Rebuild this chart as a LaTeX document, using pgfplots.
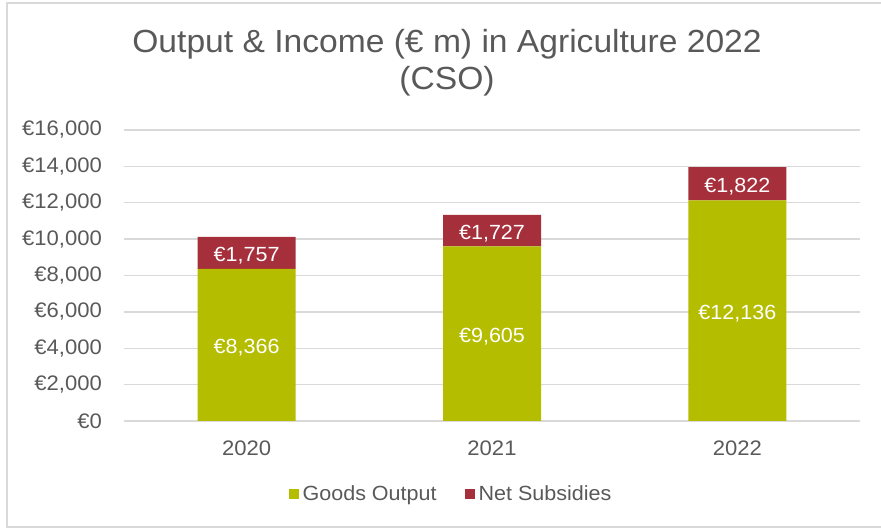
\documentclass[border=0pt]{standalone}
\usepackage{fontspec}
\setmainfont{Liberation Sans}[FakeStretch=1.05]
\usepackage{pgfplots}
\pgfplotsset{compat=1.18}
\definecolor{goods}{HTML}{B5BD00}
\definecolor{subs}{HTML}{A52F3B}
\definecolor{txt}{HTML}{595959}
\definecolor{gridc}{HTML}{D9D9D9}

\begin{document}
\begin{tikzpicture}
\useasboundingbox (0pt,0pt) rectangle (881pt,529pt);
% chart frame (right side is cut off in the reference)
\draw[gridc, line width=1.5pt] (881pt,526pt) -- (7pt,526pt) -- (7pt,2pt) -- (881pt,2pt);
\begin{axis}[
    at={(124pt,108pt)}, anchor=south west,
    scale only axis, width=736pt, height=291pt,
    ybar stacked, bar width=98pt,
    xmin=-0.5, xmax=2.5, ymin=0, ymax=16000,
    xtick={0,1,2}, xticklabels={2020,2021,2022},
    ytick={0,2000,...,16000}, scaled y ticks=false,
    ymajorgrids, grid style={gridc, line width=1.3pt},
    axis line style={draw=none}, tick style={draw=none},
    /pgf/number format/1000 sep={,},
    /pgf/number format/assume math mode=true,
    yticklabel={€\pgfmathprintnumber{\tick}},
    yticklabel style={font=\fontsize{21}{21}\selectfont, text=txt,
        anchor=east, inner sep=0pt, xshift=-22pt},
    xticklabel style={font=\fontsize{21}{21}\selectfont, text=txt,
        anchor=north, inner sep=0pt, yshift=-20pt},
    title={Output \& Income (€ m) in Agriculture 2022\\(CSO)},
    title style={at={(0.4389,1.2095)}, anchor=center, align=center,
        font=\fontsize{32}{37}\selectfont, text=txt},
    legend columns=2,
    legend style={at={(0.4457,-0.251)}, anchor=center, draw=none,
        font=\fontsize{20.5}{21}\selectfont, text=txt,
        column sep=0pt, nodes={inner sep=4pt},
        /tikz/every even column/.append style={column sep=24pt}},
    legend image code/.code={\fill[#1] (0pt,-5pt) rectangle (10pt,5pt);},
    point meta=explicit,
    nodes near coords={€\pgfmathprintnumber{\pgfplotspointmeta}},
    every node near coord/.append style={font=\fontsize{20.5}{21}\selectfont,
        text=white, anchor=center, yshift=-3pt},
]
\addplot[fill=goods, draw=none] coordinates {(0,8366) [8366] (1,9605) [9605] (2,12136) [12136]};
\addplot[fill=subs, draw=none] coordinates {(0,1757) [1757] (1,1727) [1727] (2,1822) [1822]};
\legend{Goods Output, Net Subsidies}
\end{axis}
\end{tikzpicture}
\end{document}
